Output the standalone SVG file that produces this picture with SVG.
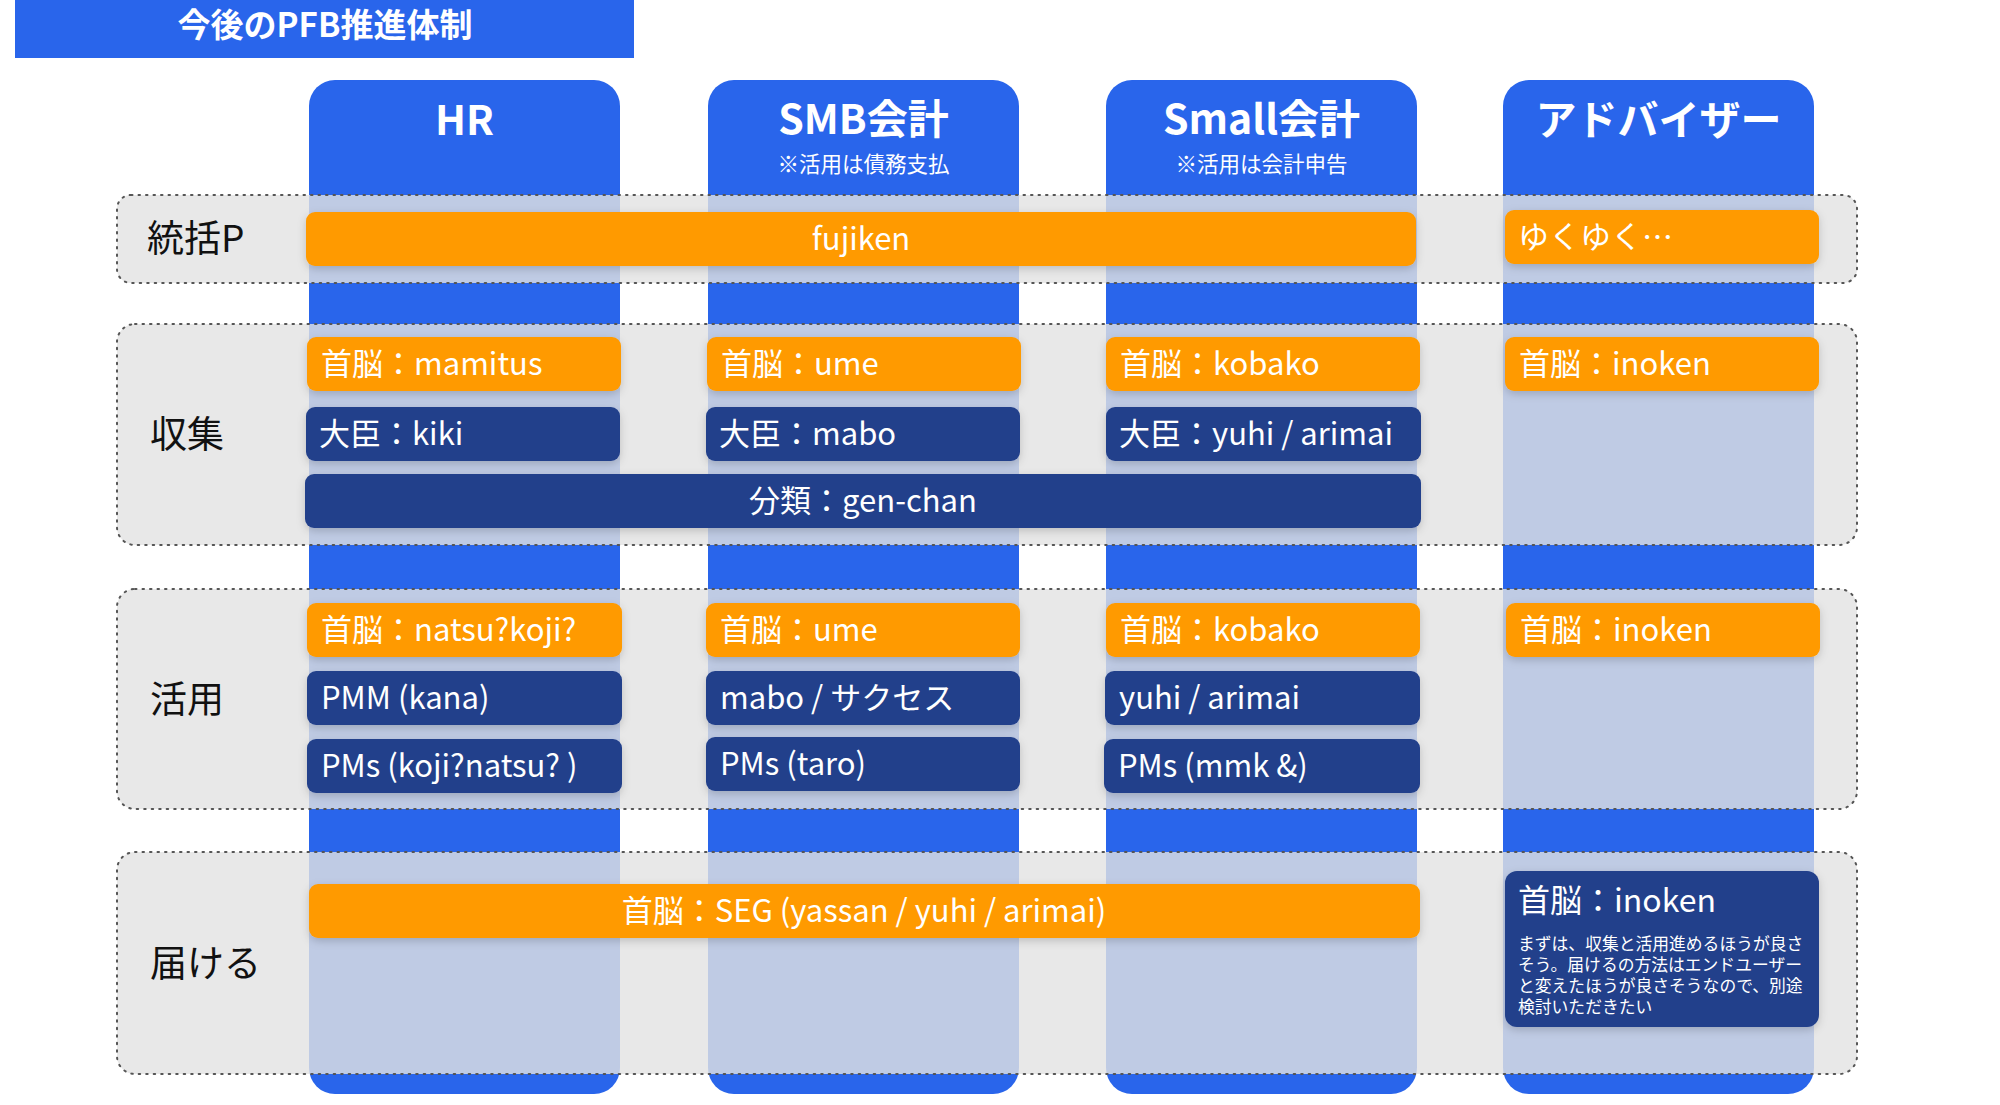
<svg xmlns="http://www.w3.org/2000/svg" width="2000" height="1105" viewBox="0 0 2000 1105">
<style>
text{font-family:"Noto Sans CJK JP","Noto Sans",sans-serif;}
.col{fill:#2965eb;}
.band{fill:#e3e3e3;fill-opacity:0.81;stroke:#555;stroke-width:2;stroke-dasharray:1.5 6;stroke-linecap:round;}
.or{fill:#ff9a00;filter:url(#sh);}
.nv{fill:#22408b;filter:url(#sh);}
.bt{fill:#fff;font-size:31px;dominant-baseline:central;}
.hd{fill:#fff;font-size:41px;font-weight:700;text-anchor:middle;}
.sub{fill:#fff;font-size:21.5px;text-anchor:middle;}
.lb{fill:#111;font-size:37px;dominant-baseline:central;}
.mid{text-anchor:middle;}
</style>
<defs>
<filter id="sh" x="-10%" y="-30%" width="120%" height="170%">
<feDropShadow dx="0" dy="3" stdDeviation="4" flood-color="#000" flood-opacity="0.18"/>
</filter>
</defs>
<rect width="2000" height="1105" fill="#fff"/>
<g id="title">
<rect x="15" y="0" width="619" height="58" fill="#2965eb"/>
<text x="325" y="23" fill="#fff" font-size="33" font-weight="700" text-anchor="middle" dominant-baseline="central">今後のPFB推進体制</text>
</g>
<g id="columns">
<g id="col-hr"><rect class="col" x="309" y="80" width="311" height="1014" rx="26"/><text class="hd" x="464.5" y="135">HR</text></g>
<g id="col-smb"><rect class="col" x="708" y="80" width="311" height="1014" rx="26"/><text class="hd" x="863.5" y="134">SMB会計</text><text class="sub" x="863.5" y="172">※活用は債務支払</text></g>
<g id="col-small"><rect class="col" x="1106" y="80" width="311" height="1014" rx="26"/><text class="hd" x="1261.5" y="134">Small会計</text><text class="sub" x="1261.5" y="172">※活用は会計申告</text></g>
<g id="col-adv"><rect class="col" x="1503" y="80" width="311" height="1014" rx="26"/><text class="hd" x="1658.5" y="135">アドバイザー</text></g>
</g>
<g id="bands">
<g id="band-tokatsu"><rect class="band" x="117" y="195" width="1740" height="88" rx="14"/><text class="lb" x="147" y="236">統括P</text></g>
<g id="band-shushu"><rect class="band" x="117" y="324" width="1740" height="221" rx="18"/><text class="lb" x="150" y="432">収集</text></g>
<g id="band-katsuyo"><rect class="band" x="117" y="589" width="1740" height="220" rx="18"/><text class="lb" x="150" y="697">活用</text></g>
<g id="band-todokeru"><rect class="band" x="117" y="852" width="1740" height="222" rx="18"/><text class="lb" x="150" y="961">届ける</text></g>
</g>
<g id="connectors"></g>
<g id="nodes">
<g id="n-fujiken"><rect class="or" x="306" y="212" width="1110" height="54" rx="9"/><text class="bt mid" x="861" y="236">fujiken</text></g>
<g id="n-yukuyuku"><rect class="or" x="1505" y="210" width="314" height="54" rx="9"/><text class="bt" x="1518" y="234">ゆくゆく…</text></g>

<g id="n-hr-s1"><rect class="or" x="307" y="337" width="314" height="54" rx="9"/><text class="bt" x="321" y="361">首脳：mamitus</text></g>
<g id="n-smb-s1"><rect class="or" x="707" y="337" width="314" height="54" rx="9"/><text class="bt" x="721" y="361">首脳：ume</text></g>
<g id="n-small-s1"><rect class="or" x="1106" y="337" width="314" height="54" rx="9"/><text class="bt" x="1120" y="361">首脳：kobako</text></g>
<g id="n-adv-s1"><rect class="or" x="1505" y="337" width="314" height="54" rx="9"/><text class="bt" x="1519" y="361">首脳：inoken</text></g>

<g id="n-hr-d"><rect class="nv" x="306" y="407" width="314" height="54" rx="9"/><text class="bt" x="319" y="431">大臣：kiki</text></g>
<g id="n-smb-d"><rect class="nv" x="706" y="407" width="314" height="54" rx="9"/><text class="bt" x="719" y="431">大臣：mabo</text></g>
<g id="n-small-d"><rect class="nv" x="1106" y="407" width="315" height="54" rx="9"/><text class="bt" x="1119" y="431">大臣：yuhi / arimai</text></g>
<g id="n-bunrui"><rect class="nv" x="305" y="474" width="1116" height="54" rx="9"/><text class="bt mid" x="863" y="498">分類：gen-chan</text></g>

<g id="n-hr-k1"><rect class="or" x="307" y="603" width="315" height="54" rx="9"/><text class="bt" x="321" y="627">首脳：natsu?koji?</text></g>
<g id="n-smb-k1"><rect class="or" x="706" y="603" width="314" height="54" rx="9"/><text class="bt" x="720" y="627">首脳：ume</text></g>
<g id="n-small-k1"><rect class="or" x="1106" y="603" width="314" height="54" rx="9"/><text class="bt" x="1120" y="627">首脳：kobako</text></g>
<g id="n-adv-k1"><rect class="or" x="1506" y="603" width="314" height="54" rx="9"/><text class="bt" x="1520" y="627">首脳：inoken</text></g>

<g id="n-hr-k2"><rect class="nv" x="307" y="671" width="315" height="54" rx="9"/><text class="bt" x="321" y="695">PMM (kana)</text></g>
<g id="n-smb-k2"><rect class="nv" x="706" y="671" width="314" height="54" rx="9"/><text class="bt" x="720" y="695">mabo / サクセス</text></g>
<g id="n-small-k2"><rect class="nv" x="1105" y="671" width="315" height="54" rx="9"/><text class="bt" x="1119" y="695">yuhi / arimai</text></g>

<g id="n-hr-k3"><rect class="nv" x="307" y="739" width="315" height="54" rx="9"/><text class="bt" x="321" y="763">PMs (koji?natsu? )</text></g>
<g id="n-smb-k3"><rect class="nv" x="706" y="737" width="314" height="54" rx="9"/><text class="bt" x="720" y="761">PMs (taro)</text></g>
<g id="n-small-k3"><rect class="nv" x="1104" y="739" width="316" height="54" rx="9"/><text class="bt" x="1118" y="763">PMs (mmk &amp;)</text></g>

<g id="n-seg"><rect class="or" x="309" y="884" width="1111" height="54" rx="9"/><text class="bt mid" x="864" y="908">首脳：SEG (yassan / yuhi / arimai)</text></g>
<g id="n-adv-t"><rect class="nv" x="1505" y="871" width="314" height="156" rx="12"/>
<text fill="#fff" font-size="32" x="1518" y="898" dominant-baseline="central">首脳：inoken</text>
<text fill="#fff" font-size="16.8"><tspan x="1518" y="950">まずは、収集と活用進めるほうが良さ</tspan><tspan x="1518" y="971">そう。届けるの方法はエンドユーザー</tspan><tspan x="1518" y="992">と変えたほうが良さそうなので、別途</tspan><tspan x="1518" y="1013">検討いただきたい</tspan></text>
</g>
</g>
</svg>
